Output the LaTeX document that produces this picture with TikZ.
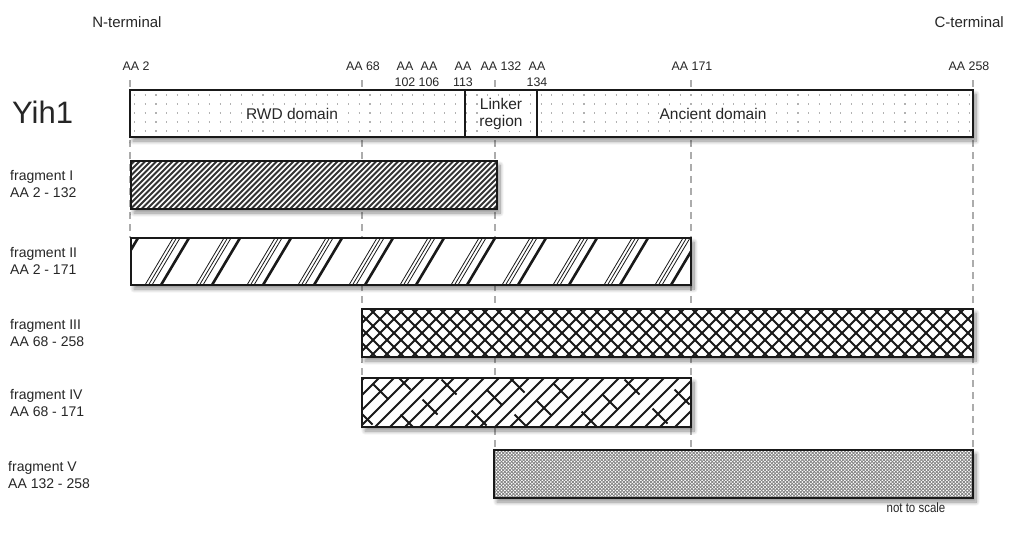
\documentclass[tikz,border=0pt]{standalone}
\usepackage{fontspec}
\setmainfont{Liberation Sans}
\usetikzlibrary{shadows.blur,patterns.meta}
\begin{document}
\begin{tikzpicture}[x=1pt,y=-1pt,
  lbl/.style={font=\fontsize{15}{17}\selectfont, text=black!85, inner sep=0pt},
  aa/.style={font=\fontsize{12.4}{16}\selectfont, text=black!85, inner sep=0pt, align=center},
  dom/.style={font=\fontsize{15.5}{17.5}\selectfont, text=black!85, fill=white, inner sep=1pt, align=center},
  frag/.style={font=\fontsize{14}{16.5}\selectfont, text=black!85, inner sep=0pt, align=left, anchor=west},
  barfill/.style={fill=white, blur shadow={shadow xshift=3pt, shadow yshift=-4pt, shadow blur radius=4pt, shadow blur steps=10, shadow opacity=45}},
  barline/.style={draw=black!90, line width=2.4pt},
  guide/.style={draw=gray!65, line width=1.3pt, dash pattern=on 7pt off 5pt},
  hatch/.style={line width=2pt, black!90},
]
\useasboundingbox (0,0) rectangle (1010,533);

% guide lines
\coordinate (g1t) at (130,80);  \coordinate (g1b) at (130,238);
\coordinate (g2t) at (362,80);  \coordinate (g2b) at (362,428);
\coordinate (g3t) at (495,80);  \coordinate (g3b) at (495,450);
\coordinate (g4t) at (691,80);  \coordinate (g4b) at (691,450);
\coordinate (g5t) at (973,80);  \coordinate (g5b) at (973,450);
\foreach \i in {1,...,5} \draw[guide] (g\i t) -- (g\i b);

% Yih1 bar
\fill[barfill] (130,90) rectangle (973,137);
\foreach \yy in {95,104,113,122,131}
  \draw[gray!60, line width=1.1pt, dash pattern=on 1.1pt off 9.6pt] (134,\yy) -- (970,\yy);
\node[dom] (rwd) at (292,114) {RWD domain};
\node[dom] (linker) at (501,114) {Linker\\region};
\node[dom] (anc) at (713,114) {Ancient domain};
\draw[barline] (130,90) rectangle (973,137);
\draw[line width=2pt, black!90] (465,90) -- (465,137);
\draw[line width=2pt, black!90] (537,90) -- (537,137);

% fragment I
\fill[barfill] (131,161) rectangle (497,209);
\begin{scope}
\clip (131,161) rectangle (497,209);
\foreach \x in {70,75.5,...,500} \draw[line width=2pt, black!80] (\x,209) -- ++(48,-48);
\end{scope}
\draw[barline] (131,161) rectangle (497,209);

% fragment II
\fill[barfill] (131,238) rectangle (691,285);
\begin{scope}
\clip (131,238) rectangle (691,285);
\foreach \x in {110,161,...,720} {
  \draw[line width=2.6pt, black!90] (\x,285) -- ++(28,-47);
  \foreach \d in {-16,-12.5,-9} \draw[line width=0.8pt, black!90] ({\x+\d},285) -- ++(28,-47);
}
\end{scope}
\draw[barline] (131,238) rectangle (691,285);

% fragment III
\fill[barfill] (362,309) rectangle (973,357);
\begin{scope}
\clip (362,309) rectangle (973,357);
\foreach \x in {300,314,...,1000} {
  \draw[hatch] (\x,357) -- ++(48,-48);
  \draw[hatch] (\x,309) -- ++(48,48);
}
\end{scope}
\draw[barline] (362,309) rectangle (973,357);

% fragment IV
\fill[barfill] (362,378) rectangle (691,427);
\begin{scope}
\clip (362,378) rectangle (691,427);
\foreach \x in {315,330,...,700} \draw[hatch] (\x,427) -- ++(49,-49);
\foreach \cx/\cy in {381/392,365/417,403/382,408/422,430/407,449/387,479/418,494/397,517/385,522/422,544/408,561/391,589/419,610/402,632/387,660/416,682/397}
  \draw[line width=1.8pt, black!90] ({\cx-7.5},{\cy-7.5}) -- ({\cx+7.5},{\cy+7.5});
\end{scope}
\draw[barline] (362,378) rectangle (691,427);

% fragment V
\fill[barfill] (494,450) rectangle (973,498);
\fill[black!50] (494,450) rectangle (973,498);
\fill[pattern={Dots[distance=3.4pt, radius=0.95pt]}, pattern color=white] (494,450) rectangle (973,498);
\fill[pattern={Dots[distance=3.4pt, radius=0.95pt, xshift=1.7pt, yshift=1.7pt]}, pattern color=white] (494,450) rectangle (973,498);
\draw[barline] (494,450) rectangle (973,498);

% labels
\node[lbl] (nterm) at (127,22) {N-terminal};
\node[lbl, anchor=east] (cterm) at (1004,22) {C-terminal};
\node[font=\fontsize{31}{31}\selectfont, text=black!85, anchor=west, inner sep=0pt] (yih) at (12,112) {Yih1};

\node[aa] (a2) at (136,66) {AA 2};
\node[aa] (a68) at (363,66) {AA 68};
\node[aa] (a102) at (405,74) {AA\\102};
\node[aa] (a106) at (429,74) {AA\\106};
\node[aa] (a113) at (463,74) {AA\\113};
\node[aa] (a132) at (501,66) {AA 132};
\node[aa] (a134) at (537,74) {AA\\134};
\node[aa] (a171) at (692,66) {AA 171};
\node[aa] (a258) at (969,66) {AA 258};

\node[frag] (f1) at (10,184) {fragment I\\AA 2 - 132};
\node[frag] (f2) at (10,261) {fragment II\\AA 2 - 171};
\node[frag] (f3) at (10,333) {fragment III\\AA 68 - 258};
\node[frag] (f4) at (10,403) {fragment IV\\AA 68 - 171};
\node[frag] (f5) at (8,475) {fragment V\\AA 132 - 258};

\node[font=\fontsize{13.5}{15}\selectfont, text=black!85, inner sep=0pt, xscale=0.85] (nts) at (916,508) {not to scale};
\end{tikzpicture}
\end{document}
